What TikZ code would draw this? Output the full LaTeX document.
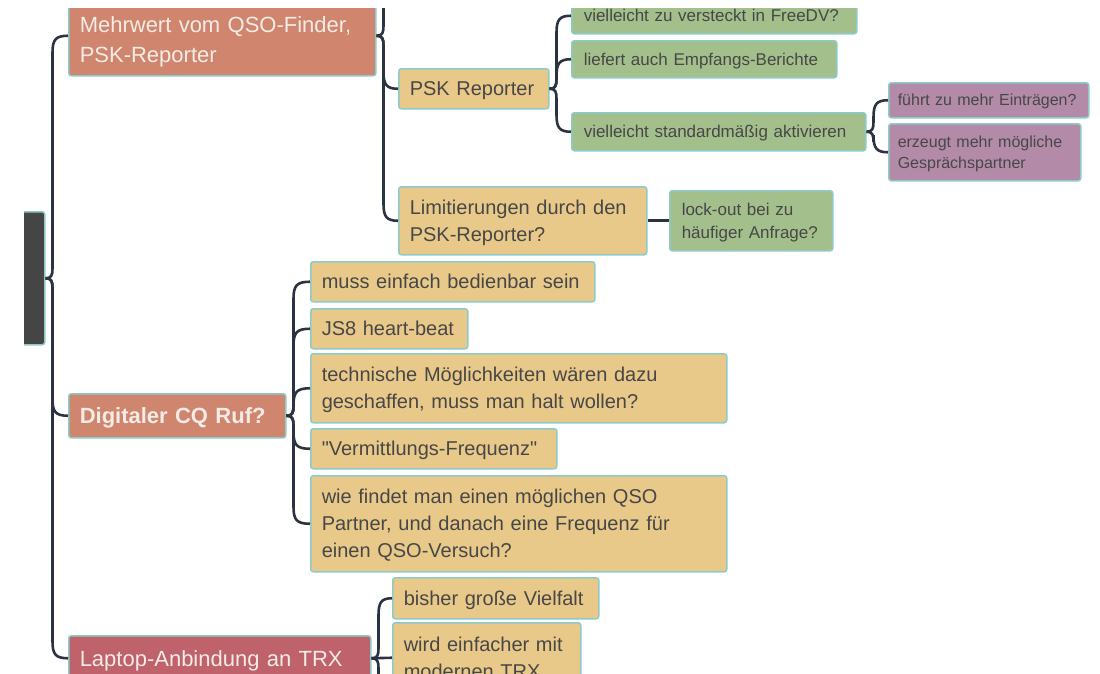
\documentclass[tikz,border=0pt]{standalone}
\usepackage{fontspec}
\setmainfont{Liberation Sans}
\usetikzlibrary{calc}

\definecolor{boxrim}{HTML}{8CCBC8}
\definecolor{rootfill}{HTML}{454545}
\definecolor{topicfill}{HTML}{D0866E}
\definecolor{laptopfill}{HTML}{C0626B}
\definecolor{ideafill}{HTML}{E9C98A}
\definecolor{notefill}{HTML}{A3BF8B}
\definecolor{detailfill}{HTML}{B38BA9}
\definecolor{topictext}{HTML}{F3ECE6}
\definecolor{ideatext}{HTML}{474747}
\definecolor{linkcol}{HTML}{2C3340}

% line-box struts, so that text sits in the box like a browser line
\newcommand{\linetop}{\rule{0pt}{.76\baselineskip}}
\newcommand{\linebot}{\rule[-.24\baselineskip]{0pt}{.24\baselineskip}}

\tikzset{
  box/.style={draw=boxrim, line width=1.5pt, rounded corners=2.5pt, anchor=north west,
    inner xsep=11pt, inner ysep=0pt, align=left,
    execute at begin node=\linetop, execute at end node=\linebot},
  topic/.style={box, fill=topicfill, text=topictext, font=\fontsize{22}{30}\selectfont},
  idea/.style={box, fill=ideafill, text=ideatext, font=\fontsize{20}{27}\selectfont},
  note/.style={box, fill=notefill, text=ideatext, inner xsep=12pt, font=\fontsize{17}{23}\selectfont},
  detail/.style={box, fill=detailfill, text=ideatext, inner xsep=9pt, font=\fontsize{16}{21}\selectfont},
  link/.style={draw=linkcol, line width=2.6pt}
}

% curly mind-map branch from the east side of a node to a child point
\newcommand{\mmlink}[2]{%
  \draw[link] let \p1=(#1.east), \p2=(#2), \n1={sign(\y2-\y1)} in
    (\p1) .. controls (\x1+6pt,\y1) and (\x1+7pt,\y1+3pt*\n1) .. (\x1+7pt,\y1+10pt*\n1)
    -- (\x1+7pt,\y2-17pt*\n1) .. controls (\x1+7pt,\y2-4pt*\n1) and (\x1+10pt,\y2) .. (\p2);}

\begin{document}
\begin{tikzpicture}[x=1pt,y=-1pt]
\useasboundingbox (0,0) rectangle (1100,673);
\begin{scope}
\clip (24,8) rectangle (1100,673);

% root and main topics
\node[box, fill=rootfill, minimum width=144, minimum height=133] (root) at (-100,211) {};
\node[topic, text width=285, minimum height=80] (mehr) at (68,-5) {\rule{0pt}{30pt}Mehrwert vom QSO-Finder,\\PSK-Reporter};
\node[topic, font=\fontsize{22}{30}\selectfont\bfseries, text width=195, minimum height=44] (cq) at (68,393) {Digitaler CQ Ruf?};
\node[topic, fill=laptopfill, text width=280, minimum height=45] (laptop) at (68,635) {Laptop-Anbindung an TRX};

% PSK reporter branch
\node[idea, text width=128, minimum height=40] (psk) at (398,68) {PSK Reporter};
\node[idea, text width=226, minimum height=68] (limit) at (398,186) {Limitierungen durch den\\PSK-Reporter?};
\node[note, text width=261, minimum height=36] (versteckt) at (571,-3) {vielleicht zu versteckt in FreeDV?};
\node[note, text width=241, minimum height=37] (liefert) at (571,40) {liefert auch Empfangs-Berichte};
\node[note, text width=270, minimum height=38] (standard) at (571,112) {vielleicht standardmäßig aktivieren};
\node[detail, text width=182, minimum height=35] (fuehrt) at (888,82) {führt zu mehr Einträgen?};
\node[detail, text width=174, minimum height=57] (erzeugt) at (888,123) {erzeugt mehr mögliche\\Gesprächspartner};
\node[note, text width=139, minimum height=60] (lockout) at (669,190) {lock-out bei zu\\häufiger Anfrage?};

% CQ branch
\node[idea, text width=262, minimum height=40] (muss) at (310,261) {muss einfach bedienbar sein};
\node[idea, text width=135, minimum height=40] (js8) at (310,308) {JS8 heart-beat};
\node[idea, text width=394, minimum height=69] (technik) at (310,353) {technische Möglichkeiten wären dazu\\geschaffen, muss man halt wollen?};
\node[idea, text width=224, minimum height=40] (vermittlung) at (310,428) {\textquotedbl Vermittlungs-Frequenz\textquotedbl};
\node[idea, text width=394, minimum height=96] (partner) at (310,475) {wie findet man einen möglichen QSO\\Partner, und danach eine Frequenz für\\einen QSO-Versuch?};

% laptop branch
\node[idea, text width=184, minimum height=41] (vielfalt) at (392,577) {bisher große Vielfalt};
\node[idea, text width=166, minimum height=70] (modern) at (392,622) {wird einfacher mit\\modernen TRX};

% branches leaving the visible part
\coordinate (mehrmore) at (398,-60);
\coordinate (laptopmore) at (392,760);

% connectors
\mmlink{root}{mehr.west}
\mmlink{root}{cq.west}
\mmlink{root}{laptop.west}
\mmlink{mehr}{mehrmore}
\mmlink{mehr}{psk.west}
\mmlink{mehr}{limit.west}
\mmlink{psk}{versteckt.west}
\mmlink{psk}{liefert.west}
\mmlink{psk}{standard.west}
\mmlink{standard}{fuehrt.west}
\mmlink{standard}{erzeugt.west}
\draw[link] (limit.east) -- (lockout.west);
\mmlink{cq}{muss.west}
\mmlink{cq}{js8.west}
\mmlink{cq}{technik.west}
\mmlink{cq}{vermittlung.west}
\mmlink{cq}{partner.west}
\mmlink{laptop}{vielfalt.west}
\draw[link] (laptop.east) -- (modern.west);
\mmlink{laptop}{laptopmore}
\end{scope}
\end{tikzpicture}
\end{document}
